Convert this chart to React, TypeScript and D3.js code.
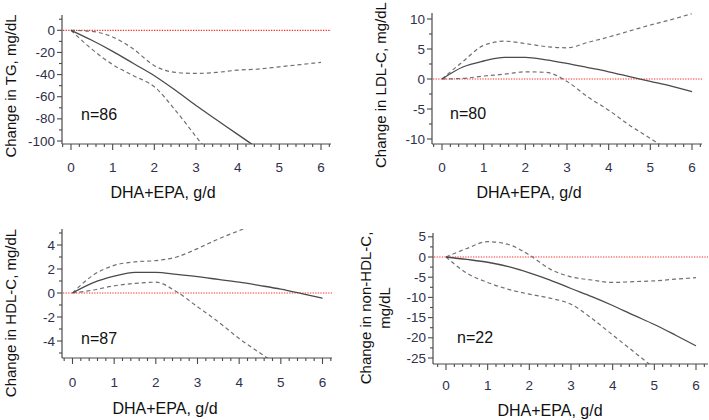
import React from "react";
import * as d3 from "d3";

// ---- data ----
const doseX = [0, 0.5, 1, 1.5, 2, 2.5, 3, 3.5, 4, 4.5, 5, 5.5, 6];

const tgEst = [0, -9, -19, -30, -41, -54, -68, -81, -94, -107, null, null, null];
const tgUpper = [0, -1, -6, -17, -32, -38, -39, -38, -36, -35, -33, -31, -29];
const tgLower = [0, -17, -31, -41, -51, -72, -96, -120, null, null, null, null, null];

const ldlEst = [0, 2.0, 3.0, 3.6, 3.6, 3.2, 2.6, 1.9, 1.2, 0.4, -0.4, -1.2, -2.1];
const ldlUpper = [0, 2.9, 5.6, 6.3, 5.9, 5.4, 5.2, 6.1, 7.0, 8.0, 9.0, 9.9, 10.9];
const ldlLower = [0, 0.1, 0.5, 0.8, 1.2, 1.1, -0.4, -3.0, -5.2, -7.7, -9.9, -12.2, null];

const hdlEst = [0, 0.86, 1.4, 1.72, 1.72, 1.55, 1.36, 1.13, 0.9, 0.62, 0.32, -0.05, -0.44];
const hdlUpper = [0, 1.5, 2.3, 2.6, 2.7, 3.0, 3.7, 4.5, 5.2, 5.9, null, null, null];
const hdlLower = [0, 0.25, 0.6, 0.8, 0.9, 0.1, -1.15, -2.4, -3.8, -5.0, -6.2, null, null];

const nhdlEst = [0, -0.6, -1.3, -2.4, -3.9, -5.7, -7.8, -9.8, -12.0, -14.4, -16.7, -19.3, -22.0];
const nhdlUpper = [0, 2.1, 3.8, 3.1, 0.5, -3.0, -4.9, -5.7, -6.3, -6.1, -5.9, -5.5, -5.1];
const nhdlLower = [0, -4.0, -6.3, -8.0, -9.2, -10.2, -11.7, -15.2, -19.3, -23.4, -27.5, null, null];

const xMajorTicks = [0, 1, 2, 3, 4, 5, 6];
const tgTicks = [0, -20, -40, -60, -80, -100];
const ldlTicks = [10, 5, 0, -5, -10];
const hdlTicks = [4, 2, 0, -2, -4];
const nhdlTicks = [5, 0, -5, -10, -15, -20, -25];

const titles = [
  ["Change in TG, mg/dL"],
  ["Change in LDL-C, mg/dL"],
  ["Change in HDL-C, mg/dL"],
  ["Change in non-HDL-C,", "mg/dL"],
];
const nLabels = ["n=86", "n=80", "n=87", "n=22"];
const xTitle = "DHA+EPA, g/d";

const FONT = "'Liberation Sans', Arial, sans-serif";
const TICK_COLOR = "#30304a";
const AXIS_COLOR = "#4a4a4a";

type Layout = {
  left: number; right: number; top: number; bottom: number;
  x0: number; x6: number; yDom: [number, number]; yRange: [number, number];
  yMinorStep: number; ticks: number[];
  est: (number | null)[]; upper: (number | null)[]; lower: (number | null)[];
  titleX: number[]; titleY: number; xTitleX: number; nX: number; nY: number;
  tickLabelDy: number; xTitleDy: number;
};

function Panel({ p, idx }: { p: Layout; idx: number }) {
  const x = d3.scaleLinear().domain([0, 6]).range([p.x0, p.x6]);
  const y = d3.scaleLinear().domain(p.yDom).range(p.yRange);
  const xMin = x.invert(p.left);
  const xMax = x.invert(p.right);
  const yTopVal = y.invert(p.top);
  const yBotVal = y.invert(p.bottom);

  const xMinor: number[] = [];
  for (let v = Math.ceil(xMin / 0.2) * 0.2; v <= xMax + 1e-9; v += 0.2) {
    const r = Math.round(v * 10) / 10;
    if (Math.abs(r - Math.round(r)) > 1e-6) xMinor.push(r);
  }
  const yMinor: number[] = [];
  const s = p.yMinorStep;
  for (let v = Math.ceil(yBotVal / s) * s; v <= yTopVal + 1e-9; v += s) {
    const r = Math.round(v * 100) / 100;
    if (!p.ticks.some((t) => Math.abs(t - r) < 1e-6)) yMinor.push(r);
  }

  const line = d3
    .line<number | null>()
    .defined((d) => d !== null)
    .x((_, i) => x(doseX[i]))
    .y((d) => y(d as number))
    .curve(d3.curveMonotoneX);

  const clipId = `clip${idx}`;
  return (
    <g>
      <defs>
        <clipPath id={clipId}>
          <rect x={p.left} y={p.top} width={p.right - p.left} height={p.bottom - p.top} />
        </clipPath>
      </defs>
      {/* zero reference */}
      <line x1={p.left + 1} x2={p.right} y1={y(0)} y2={y(0)} stroke="#ff2a2a" strokeWidth={1.2} strokeDasharray="1.3,1.3" />
      <g clipPath={`url(#${clipId})`} fill="none">
        <path d={line(p.upper) || ""} stroke="#707070" strokeWidth={1.2} strokeDasharray="4,3" />
        <path d={line(p.lower) || ""} stroke="#707070" strokeWidth={1.2} strokeDasharray="4,3" />
        <path d={line(p.est) || ""} stroke="#4a4a4a" strokeWidth={1.3} />
      </g>
      {/* y axis */}
      <line x1={p.left} x2={p.left} y1={p.top} y2={p.bottom} stroke={AXIS_COLOR} strokeWidth={1.2} />
      {p.ticks.map((t) => (
        <g key={`yt${t}`}>
          <line x1={p.left - 5} x2={p.left} y1={y(t)} y2={y(t)} stroke={AXIS_COLOR} strokeWidth={1.1} />
          <text x={p.left - 7} y={y(t)} textAnchor="end" dominantBaseline="central" fontSize={13.5} fill={TICK_COLOR} fontFamily={FONT}>
            {t}
          </text>
        </g>
      ))}
      {yMinor.map((t) => (
        <line key={`ym${t}`} x1={p.left - 3} x2={p.left} y1={y(t)} y2={y(t)} stroke={AXIS_COLOR} strokeWidth={1.1} />
      ))}
      {/* x axis */}
      <line x1={p.left} x2={p.right} y1={p.bottom} y2={p.bottom} stroke={AXIS_COLOR} strokeWidth={1.2} />
      {xMajorTicks.map((t) => (
        <g key={`xt${t}`}>
          <line x1={x(t)} x2={x(t)} y1={p.bottom} y2={p.bottom + 6} stroke={AXIS_COLOR} strokeWidth={1.1} />
          <text x={x(t)} y={p.bottom + p.tickLabelDy} textAnchor="middle" dominantBaseline="central" fontSize={13.5} fill={TICK_COLOR} fontFamily={FONT}>
            {t}
          </text>
        </g>
      ))}
      {xMinor.map((t) => (
        <line key={`xm${t}`} x1={x(t)} x2={x(t)} y1={p.bottom} y2={p.bottom + 3} stroke={AXIS_COLOR} strokeWidth={1.1} />
      ))}
      <text x={p.xTitleX} y={p.bottom + p.xTitleDy} textAnchor="middle" dominantBaseline="central" fontSize={16} fill="#111" fontFamily={FONT}>
        {xTitle}
      </text>
      {titles[idx].map((tl, i) => (
        <text
          key={tl}
          transform={`translate(${p.titleX[i]},${p.titleY}) rotate(-90)`}
          textAnchor="middle"
          dominantBaseline="central"
          fontSize={15}
          fill="#111"
          fontFamily={FONT}
        >
          {tl}
        </text>
      ))}
      <text x={p.nX} y={p.nY} dominantBaseline="central" fontSize={16} fill="#111" fontFamily={FONT}>
        {nLabels[idx]}
      </text>
    </g>
  );
}

export default function App() {
  const panels: Layout[] = [
    {
      left: 62, right: 331, top: 15, bottom: 144, x0: 71, x6: 321,
      yDom: [0, -100], yRange: [30.3, 141], yMinorStep: 10, ticks: tgTicks,
      est: tgEst, upper: tgUpper, lower: tgLower,
      titleX: [10], titleY: 86, xTitleX: 163, nX: 81, nY: 114, tickLabelDy: 23, xTitleDy: 48,
    },
    {
      left: 432, right: 702, top: 13, bottom: 144, x0: 442, x6: 692,
      yDom: [10, -10], yRange: [19, 139], yMinorStep: 2.5, ticks: ldlTicks,
      est: ldlEst, upper: ldlUpper, lower: ldlLower,
      titleX: [380], titleY: 85, xTitleX: 529, nX: 450, nY: 113, tickLabelDy: 23, xTitleDy: 48,
    },
    {
      left: 62, right: 332, top: 229, bottom: 358, x0: 72.5, x6: 322.5,
      yDom: [0, -4], yRange: [293, 341], yMinorStep: 1, ticks: hdlTicks,
      est: hdlEst, upper: hdlUpper, lower: hdlLower,
      titleX: [10], titleY: 313, xTitleX: 165, nX: 81, nY: 338, tickLabelDy: 24, xTitleDy: 50,
    },
    {
      left: 433, right: 708, top: 233, bottom: 364, x0: 446, x6: 696,
      yDom: [0, -25], yRange: [257, 358], yMinorStep: 2.5, ticks: nhdlTicks,
      est: nhdlEst, upper: nhdlUpper, lower: nhdlLower,
      titleX: [365, 384], titleY: 308, xTitleX: 550, nX: 457, nY: 337, tickLabelDy: 21, xTitleDy: 46,
    },
  ];
  return (
    <svg width={709} height={420} style={{ position: "absolute", left: 0, top: 0, background: "#fff" }}>
      <rect x={0} y={0} width={709} height={420} fill="#fff" />
      {panels.map((p, i) => (
        <Panel key={i} p={p} idx={i} />
      ))}
    </svg>
  );
}
